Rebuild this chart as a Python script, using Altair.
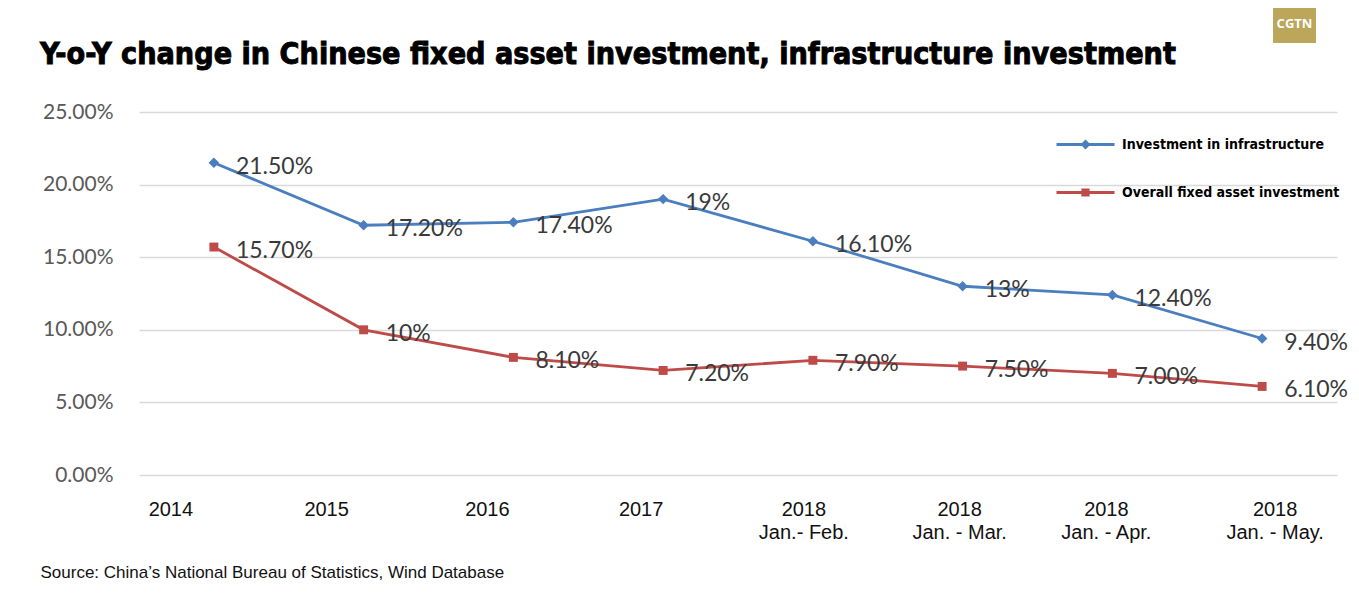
import altair as alt
import pandas as pd

categories = ["2014", "2015", "2016", "2017", "2018|Jan.- Feb.", "2018|Jan. - Mar.",
              "2018|Jan. - Apr.", "2018|Jan. - May."]
series_names = ["Investment in infrastructure", "Overall fixed asset investment"]
infra_values = [21.5, 17.2, 17.4, 19.0, 16.1, 13.0, 12.4, 9.4]
infra_labels = ["21.50%", "17.20%", "17.40%", "19%", "16.10%", "13%", "12.40%", "9.40%"]
overall_values = [15.7, 10.0, 8.1, 7.2, 7.9, 7.5, 7.0, 6.1]
overall_labels = ["15.70%", "10%", "8.10%", "7.20%", "7.90%", "7.50%", "7.00%", "6.10%"]
y_ticks = [0, 5, 10, 15, 20, 25]
title_text = "Y-o-Y change in Chinese fixed asset investment, infrastructure investment"
source_text = "Source: China\u2019s National Bureau of Statistics, Wind Database"

rows = []
for name, vals, labs in [(series_names[0], infra_values, infra_labels),
                         (series_names[1], overall_values, overall_labels)]:
    for c, v, l in zip(categories, vals, labs):
        rows.append({"period": c, "value": v, "label": l, "series": name})
df = pd.DataFrame(rows)

BLUE = "#4a7ebf"
RED = "#be4b48"
COND = "DejaVu Sans Condensed"

line_path_diamond = "M-1,0L1,0M0,-0.1L0.1,0L0,0.1L-0.1,0Z"
line_path_square = "M-1,0L1,0M-0.09,-0.09L0.09,-0.09L0.09,0.09L-0.09,0.09Z"

label_offsets = [-43, -37, -26, -22, -9, -3, -6, 13]

x_enc = alt.X(
    "period:N",
    sort=categories,
    scale=alt.Scale(paddingInner=0, paddingOuter=0, type="band"),
    axis=alt.Axis(
        title=source_text,
        titleX=-99, titleY=102, titleAnchor="start", titleAlign="left",
        titleBaseline="alphabetic", titleFont="Liberation Sans", titleFontSize=17,
        titleFontWeight="normal", titleColor="#111111",
        labelExpr="split(datum.label, '|')",
        labelAngle=0, labelFont="Liberation Sans", labelFontSize=20,
        labelColor="#111111", labelPadding=24, labelLineHeight=23,
        labelBaseline="top",
        labelOffset={
            "condition": [
                {"test": f"datum.value == '{c}'", "value": o}
                for c, o in zip(categories, label_offsets)
            ],
            "value": 0,
        },
        ticks=False, domain=False, grid=False,
    ),
)

y_enc = alt.Y(
    "value:Q",
    scale=alt.Scale(domain=[0, 25], nice=False),
    axis=alt.Axis(
        title=None, values=y_ticks,
        labelExpr="format(datum.value / 100, '.2%')",
        labelFont="Lato", labelFontSize=21, labelColor="#595959",
        labelPadding=26, ticks=False, domain=False,
        grid=True, gridColor="#d9d9d9", gridWidth=1.5,
    ),
)

color_scale = alt.Scale(domain=series_names, range=[BLUE, RED])

base = alt.Chart(df).encode(x=x_enc, y=y_enc)

lines = base.mark_line(strokeWidth=2.8).encode(
    color=alt.Color("series:N", scale=color_scale, legend=None)
)

points = base.mark_point(filled=True, opacity=1).encode(
    color=alt.Color("series:N", scale=color_scale, legend=None),
    shape=alt.Shape("series:N", scale=alt.Scale(domain=series_names, range=["diamond", "square"]), legend=None),
    size=alt.Size("series:N", scale=alt.Scale(domain=series_names, range=[110, 80]), legend=None),
)

legend_props = dict(
    title=None, orient="none", legendX=916, legendY=2, direction="vertical",
    symbolSize=3364, symbolStrokeWidth=3, symbolOpacity=1,
    labelFont=COND, labelFontWeight="bold",
    labelFontSize=14, labelColor="#000000", labelOffset=6,
    labelLimit=400, rowPadding=8,
)

legend_layer = base.mark_point(filled=False, opacity=0, strokeWidth=3).encode(
    color=alt.Color("series:N", scale=color_scale, legend=alt.Legend(**legend_props)),
    shape=alt.Shape("series:N",
                    scale=alt.Scale(domain=series_names, range=[line_path_diamond, line_path_square]),
                    legend=alt.Legend(**legend_props)),
)

texts = base.mark_text(align="left", baseline="middle", dx=22, dy=4,
                       font="Lato", fontSize=23, color="#3a3a3a").encode(
    text="label:N"
)

title_mark = alt.Chart(pd.DataFrame({"t": [title_text]})).mark_text(
    align="left", baseline="alphabetic", font=COND, fontWeight="bold",
    fontSize=30.2, color="#000000", stroke="#000000", strokeWidth=0.9
).encode(text="t:N", x=alt.value(-99), y=alt.value(-48))

logo_box = alt.Chart(pd.DataFrame({"k": [0]})).mark_rect(color="#bca65a").encode(
    x=alt.value(1134), x2=alt.value(1177), y=alt.value(-104), y2=alt.value(-69)
)
logo_text = alt.Chart(pd.DataFrame({"k": [0]})).mark_text(
    text="CGTN", font="Open Sans", fontWeight="bold", fontSize=13, color="white"
).encode(x=alt.value(1155.5), y=alt.value(-88))

chart = alt.layer(lines, points, legend_layer, texts, title_mark, logo_box, logo_text).resolve_scale(
    shape="independent", color="independent"
).properties(
    width=1198, height=363,
    autosize=alt.AutoSizeParams(type="none"),
    padding={"left": 131, "top": 104, "right": 14, "bottom": 110},
).configure_view(stroke=None)

chart.save("out.html", embed_options={"renderer": "svg", "actions": False})
